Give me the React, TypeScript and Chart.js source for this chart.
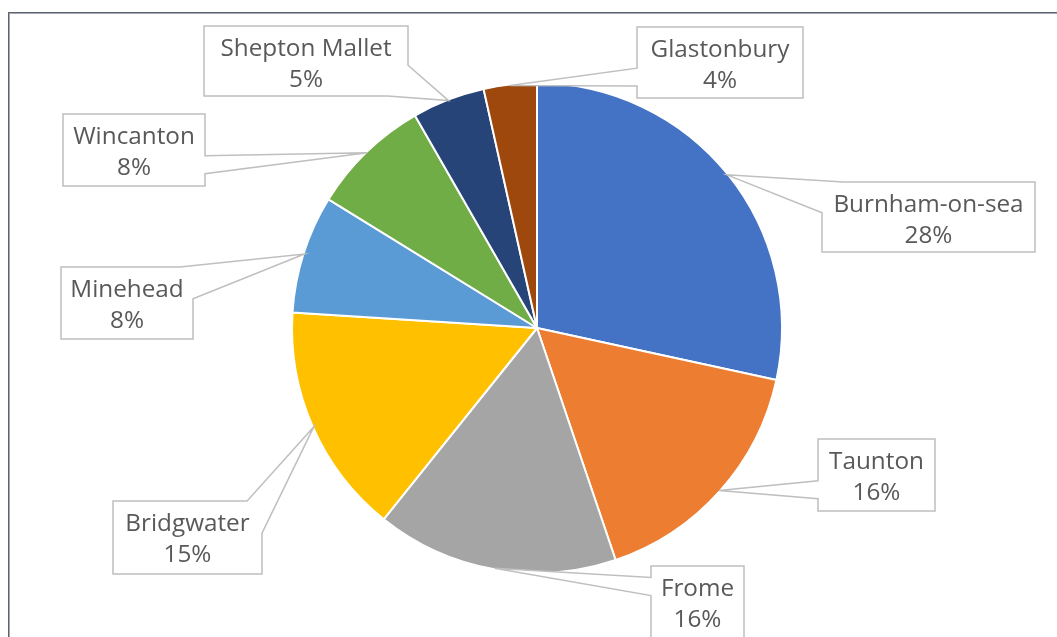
import React, { useEffect, useRef } from 'react';
import { Chart, registerables } from 'chart.js';

Chart.register(...registerables);

// ---- data ----
const categories = [
  'Burnham-on-sea',
  'Taunton',
  'Frome',
  'Bridgwater',
  'Minehead',
  'Wincanton',
  'Shepton Mallet',
  'Glastonbury',
];
const values = [28.4, 16.4, 15.95, 15.25, 7.8, 7.9, 4.8, 3.5];
const sliceColors = [
  '#4472C4',
  '#ED7D31',
  '#A5A5A5',
  '#FFC000',
  '#5B9BD5',
  '#70AD47',
  '#264478',
  '#9E480E',
];

// ---- callout layout (box left, top, width, height) ----
const calloutBoxes: number[][] = [
  [822, 182, 213, 70],
  [818, 439, 117, 72],
  [651, 566, 93, 72],
  [113, 501, 149, 73],
  [61, 267, 132, 72],
  [63, 114, 142, 72],
  [204, 26, 204, 70],
  [637, 27, 166, 71],
];

const FONT_FAMILY = '"Open Sans", "DejaVu Sans", sans-serif';

function calloutPath(box: number[], tip: { x: number; y: number }) {
  const [l, t, w, h] = box;
  const r = l + w;
  const b = t + h;
  const cx = l + w / 2;
  const cy = t + h / 2;
  const hx = tip.x < l ? -1 : tip.x > r ? 1 : 0;
  const hy = tip.y < t ? -1 : tip.y > b ? 1 : 0;
  const pts: { x: number; y: number }[] = [];
  const TL = { x: l, y: t };
  const TR = { x: r, y: t };
  const BR = { x: r, y: b };
  const BL = { x: l, y: b };
  const dv = 0.44 * h;
  const dh = 0.1 * w;
  if (hx !== 0 && hy !== 0) {
    // corner wedge
    if (hx > 0 && hy > 0) {
      pts.push(TL, TR, { x: r, y: b - dv }, tip, { x: r - dh, y: b }, BL);
    } else if (hx > 0 && hy < 0) {
      pts.push(TL, { x: r - dh, y: t }, tip, { x: r, y: t + dv }, BR, BL);
    } else if (hx < 0 && hy > 0) {
      pts.push(TL, TR, BR, { x: l + dh, y: b }, tip, { x: l, y: b - dv });
    } else {
      pts.push({ x: l, y: t + dv }, tip, { x: l + dh, y: t }, TR, BR, BL);
    }
    return pts;
  }
  let side = '';
  if (hx > 0) side = 'right';
  else if (hx < 0) side = 'left';
  else if (hy > 0) side = 'bottom';
  else side = 'top';
  const frac = (before: boolean) => (before ? [0.16, 0.41] : [0.58, 0.83]);
  if (side === 'top') {
    const [a, c] = frac(tip.x < cx);
    pts.push(TL, { x: l + a * w, y: t }, tip, { x: l + c * w, y: t }, TR, BR, BL);
  } else if (side === 'right') {
    const [a, c] = frac(tip.y < cy);
    pts.push(TL, TR, { x: r, y: t + a * h }, tip, { x: r, y: t + c * h }, BR, BL);
  } else if (side === 'bottom') {
    const [a, c] = frac(tip.x < cx);
    pts.push(TL, TR, BR, { x: l + c * w, y: b }, tip, { x: l + a * w, y: b }, BL);
  } else {
    const [a, c] = frac(tip.y < cy);
    pts.push(TL, TR, BR, BL, { x: l, y: t + c * h }, tip, { x: l, y: t + a * h });
  }
  return pts;
}

const framePlugin = {
  id: 'frame',
  beforeDraw(chart: any) {
    const ctx = chart.ctx;
    ctx.save();
    ctx.fillStyle = '#ffffff';
    ctx.fillRect(0, 0, chart.width, chart.height);
    ctx.fillStyle = '#5d6470';
    ctx.fillRect(8, 12, 1, chart.height);
    ctx.fillRect(8, 12, chart.width, 1);
    ctx.fillStyle = '#a3a8b0';
    ctx.fillRect(9, 13, 1, chart.height);
    ctx.fillRect(9, 13, chart.width, 1);
    ctx.restore();
  },
};

const calloutPlugin = {
  id: 'callouts',
  afterDatasetsDraw(chart: any) {
    const ctx = chart.ctx;
    const meta = chart.getDatasetMeta(0);
    const data = chart.data.datasets[0].data as number[];
    const total = data.reduce((s, v) => s + v, 0);
    ctx.save();
    ctx.font = `20px ${FONT_FAMILY}`;
    const refW = ctx.measureText('Burnham-on-sea').width;
    const size = Math.round((20 * 190) / refW * 10) / 10;
    meta.data.forEach((arc: any, i: number) => {
      const p = arc.getProps(['x', 'y', 'startAngle', 'endAngle', 'outerRadius'], true);
      const mid = (p.startAngle + p.endAngle) / 2;
      const tip = {
        x: p.x + Math.cos(mid) * (p.outerRadius - 1),
        y: p.y + Math.sin(mid) * (p.outerRadius - 1),
      };
      const box = calloutBoxes[i];
      const pts = calloutPath(box, tip);
      ctx.beginPath();
      pts.forEach((pt, k) => (k === 0 ? ctx.moveTo(pt.x, pt.y) : ctx.lineTo(pt.x, pt.y)));
      ctx.closePath();
      ctx.fillStyle = '#ffffff';
      ctx.fill();
      ctx.lineWidth = 1.5;
      ctx.strokeStyle = '#bfbfbf';
      ctx.lineJoin = 'miter';
      ctx.stroke();

      const cx = box[0] + box[2] / 2;
      ctx.fillStyle = '#595959';
      ctx.font = `${size}px ${FONT_FAMILY}`;
      ctx.textAlign = 'center';
      ctx.textBaseline = 'middle';
      ctx.fillText(chart.data.labels[i], cx, box[1] + 23);
      const pct = Math.round((data[i] / total) * 100) + '%';
      ctx.fillText(pct, cx, box[1] + 54);
    });
    ctx.restore();
  },
};

export default function App() {
  const canvasRef = useRef<HTMLCanvasElement | null>(null);

  useEffect(() => {
    const canvas = canvasRef.current;
    if (!canvas) return;
    const chart = new Chart(canvas, {
      type: 'pie',
      data: {
        labels: categories,
        datasets: [
          {
            data: values,
            backgroundColor: sliceColors,
            borderColor: '#ffffff',
            borderWidth: 2,
          },
        ],
      },
      options: {
        responsive: false,
        animation: false,
        devicePixelRatio: 1,
        layout: { padding: { left: 291, right: 274, top: 82, bottom: 63 } },
        plugins: {
          legend: { display: false },
          tooltip: { enabled: false },
        },
      },
      plugins: [framePlugin, calloutPlugin],
    });
    return () => chart.destroy();
  }, []);

  return (
    <div
      style={{
        position: 'fixed',
        left: 0,
        top: 0,
        width: 1057,
        height: 637,
        overflow: 'hidden',
        background: '#ffffff',
      }}
    >
      <canvas ref={canvasRef} width={1057} height={637} style={{ width: 1057, height: 637, display: 'block' }} />
    </div>
  );
}
